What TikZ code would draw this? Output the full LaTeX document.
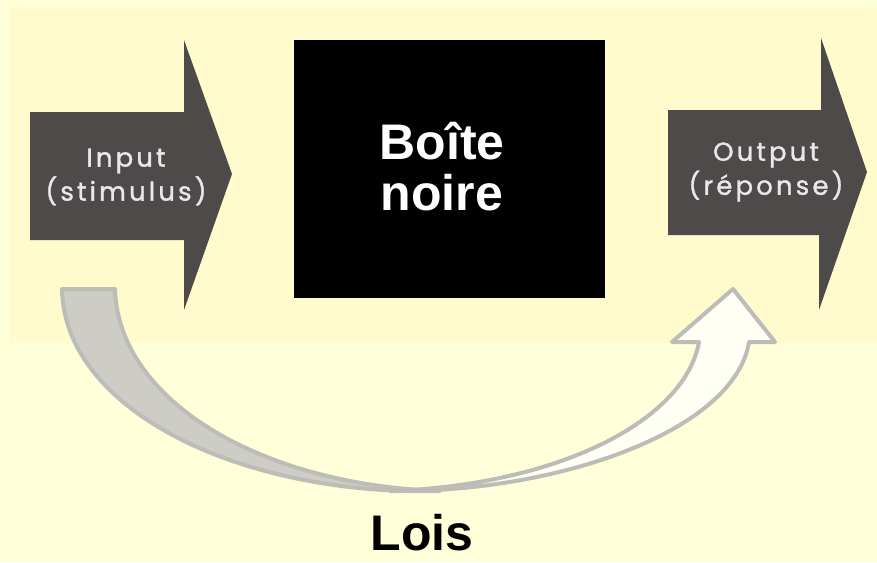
\documentclass[tikz,border=0pt]{standalone}
\usepackage{fontspec}
\setmainfont{Liberation Sans}
\newfontfamily\gothic[LetterSpace=12, FakeBold=1.2]{Poppins}
\usetikzlibrary{positioning}
\definecolor{paper}{HTML}{FFFFDA}
\definecolor{band}{HTML}{FFFBCD}
\definecolor{arrowgray}{HTML}{4E4A4A}
\definecolor{lawgray}{HTML}{CDCDC6}
\definecolor{lawline}{HTML}{BDBDB8}
\definecolor{lawwhite}{HTML}{FFFFF6}
\definecolor{labelgray}{HTML}{E8E8E8}

\tikzset{
  fatarrow/.style={fill=arrowgray},
  arrowlabel/.style={text=labelgray, align=center, font=\gothic\fontsize{26}{34}\selectfont},
  blackbox/.style={fill=black, minimum width=311pt, minimum height=258pt},
  boxtext/.style={text=white, align=center, font=\bfseries\fontsize{50}{51}\selectfont},
  lawpart/.style={draw=lawline, line width=4pt, line join=round}
}

\begin{document}
\begin{tikzpicture}[x=1pt,y=-1pt]
  \fill[paper] (0,0) rectangle (877,562);
  \useasboundingbox (0,0) rectangle (877,562);
  \fill[band] (9,7) rectangle (877,343);

  % input and output arrows
  \fill[fatarrow] (30,112) -- (184,112) -- (184,40) -- (232,174) -- (184,310) -- (184,240) -- (30,240) -- cycle;
  \fill[fatarrow] (668,110) -- (821,110) -- (821,38) -- (867,172) -- (819,310) -- (819,235) -- (668,235) -- cycle;
  \node[arrowlabel] (input) at (126,177) {Input\\(stimulus)};
  \node[arrowlabel] (output) at (766,172) {Output\\(réponse)};

  % the box
  \node[blackbox] (box) at (449.5,169) {};
  \node[boxtext] (boxlabel) at (442,167) {Boîte\\noire};

  % curved arrow
  \filldraw[lawpart, fill=lawwhite] (390,491) .. controls (560,493) and (735,430) .. (749,342)
    -- (775,342) -- (733,289) -- (672,342) -- (699,342)
    .. controls (685,420) and (560,485) .. (390,491) -- cycle;
  \filldraw[lawpart, fill=lawgray] (62,289) -- (115,289)
    .. controls (118,400) and (260,485) .. (440,491)
    .. controls (240,496) and (64,410) .. (62,289) -- cycle;

  \node[inner sep=0pt, font=\bfseries\fontsize{50}{60}\selectfont] (laws) at (422,533) {Lois};
\end{tikzpicture}
\end{document}
